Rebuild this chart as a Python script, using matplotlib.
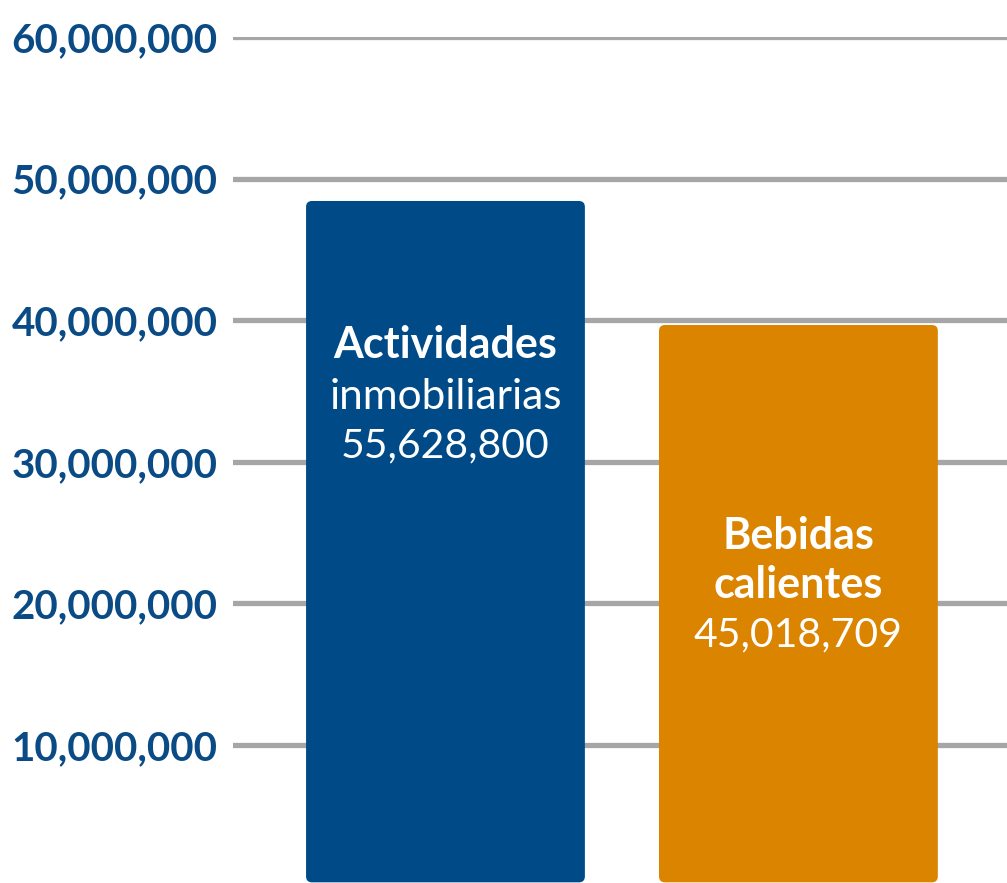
import matplotlib
matplotlib.use("Agg")
from matplotlib import pyplot as plt
from matplotlib.patches import FancyBboxPatch
from matplotlib.ticker import FuncFormatter

plt.rcParams['font.family'] = ['Lato', 'DejaVu Sans']

# datos
categorias = ["Actividades", "Bebidas"]
alturas = [48.42e6, 39.66e6]          # altura dibujada de las barras
valores = ["55,628,800", "45,018,709"]
colores = ["#004b87", "#db8400"]
ticks = [10e6, 20e6, 30e6, 40e6, 50e6, 60e6]

azul = "#0a4a85"
gris = "#a6a6a6"

fig = plt.figure(figsize=(10.07, 8.83), dpi=100)
ax = fig.add_axes([233 / 1007, -3.6 / 883, 774 / 1007, 849.6 / 883])
ax.set_ylim(0, 60e6)
ax.set_xlim(-0.602, 1.591)

for t in ticks:
    ax.axhline(t, color=gris, lw=3.8, solid_capstyle='round', zorder=1)

ancho = 0.79
for i in range(len(alturas)):
    # barra con esquinas redondeadas
    x0 = i - ancho / 2
    rad_x = 0.017
    rad_y = 0.42e6
    p = FancyBboxPatch((x0 + rad_x, 0.3e6 + rad_y), ancho - 2 * rad_x, alturas[i] - 0.3e6 - 2 * rad_y,
                       boxstyle="round,pad=0,rounding_size=0.017",
                       mutation_aspect=rad_y / rad_x,
                       facecolor=colores[i], edgecolor=colores[i], lw=0, zorder=2)
    p.set_boxstyle("round", pad=rad_x, rounding_size=rad_x)
    ax.add_patch(p)

# etiquetas dentro de las barras
ax.text(0, 37.33e6, "Actividades", ha='center', va='baseline', color='white',
        fontsize=31, fontweight='bold', zorder=3)
ax.text(0, 33.73e6, "inmobiliarias", ha='center', va='baseline', color='white',
        fontsize=30.5, zorder=3)
ax.text(0, 30.34e6, valores[0], ha='center', va='baseline', color='white',
        fontsize=29.5, zorder=3)

ax.text(1, 23.84e6, "Bebidas", ha='center', va='baseline', color='white',
        fontsize=31, fontweight='bold', zorder=3)
ax.text(1, 20.38e6, "calientes", ha='center', va='baseline', color='white',
        fontsize=31, fontweight='bold', zorder=3)
ax.text(1, 16.99e6, valores[1], ha='center', va='baseline', color='white',
        fontsize=29.5, zorder=3)

ax.set_yticks(ticks)
ax.yaxis.set_major_formatter(FuncFormatter(lambda v, p: "{:,.0f}".format(v)))
ax.tick_params(axis='y', length=0, pad=11, labelsize=29, labelcolor=azul)
for lab in ax.get_yticklabels():
    lab.set_fontweight('bold')
ax.set_xticks([])
for s in ax.spines.values():
    s.set_visible(False)
ax.patch.set_alpha(0)

plt.savefig("out.png", dpi=100)
